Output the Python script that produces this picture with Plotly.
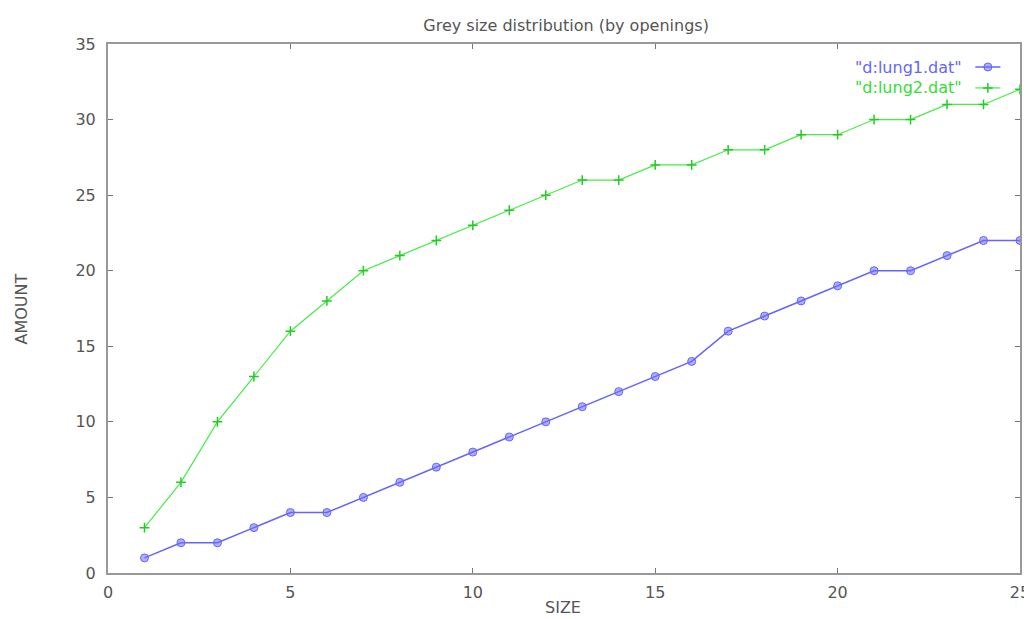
import plotly.graph_objects as go

size = list(range(1, 26))
lung1 = [1, 2, 2, 3, 4, 4, 5, 6, 7, 8, 9, 10, 11, 12, 13, 14, 16, 17, 18, 19, 20, 20, 21, 22, 22]
lung2 = [3, 6, 10, 13, 16, 18, 20, 21, 22, 23, 24, 25, 26, 26, 27, 27, 28, 28, 29, 29, 30, 30, 31, 31, 32]
names = ['"d:lung1.dat"', '"d:lung2.dat"']
x_ticks = [0, 5, 10, 15, 20, 25]
y_ticks = [0, 5, 10, 15, 20, 25, 30, 35]

blue = "#6464ff"
blue_m = "rgba(110,110,255,0.55)"
green = "#44ee44"
font = "DejaVu Sans, Liberation Sans, sans-serif"
grey = "#555555"
fs = 16

fig = go.Figure()
fig.add_trace(go.Scatter(x=size, y=lung1, mode="lines+markers", name=names[0],
                         line=dict(color=blue, width=1.5),
                         marker=dict(symbol="circle", size=8, color=blue_m,
                                     line=dict(color=blue, width=1)),
                         showlegend=False))
fig.add_trace(go.Scatter(x=size, y=lung2, mode="lines+markers", name=names[1],
                         line=dict(color=green, width=1.2),
                         marker=dict(symbol="cross-thin", size=7,
                                     line=dict(color="#22cc22", width=1.5)),
                         showlegend=False))

# gnuplot-style key: text on left, sample on right (drawn on an overlay axis)
key_y = [0.9565, 0.917]
key_x = [0.951, 0.9785]
fig.add_trace(go.Scatter(x=key_x, y=[key_y[0]] * 2, mode="lines", xaxis="x2", yaxis="y2",
                         line=dict(color=blue, width=1.5), showlegend=False, hoverinfo="skip"))
fig.add_trace(go.Scatter(x=[sum(key_x) / 2], y=[key_y[0]], mode="markers", xaxis="x2", yaxis="y2",
                         marker=dict(symbol="circle", size=8, color=blue_m, line=dict(color=blue, width=1)),
                         showlegend=False, hoverinfo="skip"))
fig.add_trace(go.Scatter(x=key_x, y=[key_y[1]] * 2, mode="lines", xaxis="x2", yaxis="y2",
                         line=dict(color=green, width=1.2), showlegend=False, hoverinfo="skip"))
fig.add_trace(go.Scatter(x=[sum(key_x) / 2], y=[key_y[1]], mode="markers", xaxis="x2", yaxis="y2",
                         marker=dict(symbol="cross-thin", size=7, line=dict(color="#22cc22", width=1.5)),
                         showlegend=False, hoverinfo="skip"))

for i, (nm, col) in enumerate(zip(names, [blue, "#33dd33"])):
    fig.add_annotation(x=0.9385, y=key_y[i], xref="paper", yref="paper", text=nm,
                       showarrow=False, xanchor="right", yanchor="middle",
                       font=dict(family=font, size=fs, color=col))

# axis titles
fig.add_annotation(x=-0.0943, y=0.5, xref="paper", yref="paper", text="AMOUNT", textangle=-90,
                   showarrow=False, xanchor="center", yanchor="middle",
                   font=dict(family=font, size=fs, color=grey))
fig.add_annotation(x=0.499, y=-0.0643, xref="paper", yref="paper", text="SIZE",
                   showarrow=False, xanchor="center", yanchor="middle",
                   font=dict(family=font, size=fs, color=grey))

axis_common = dict(showgrid=False, zeroline=False, showline=True, linecolor="#999999", linewidth=2,
                   mirror="allticks", ticks="inside", ticklen=5, tickcolor="#777777", tickwidth=1,
                   tickfont=dict(family=font, size=fs, color=grey), automargin=False)

fig.update_layout(
    width=1024, height=611,
    margin=dict(l=100, r=12, t=36, b=46),
    paper_bgcolor="white", plot_bgcolor="white",
    title=dict(text="Grey size distribution (by openings)", x=0.545, xanchor="center",
               y=0.972, yanchor="middle", font=dict(family=font, size=fs, color=grey)),
    xaxis=dict(range=[0, 25], tickvals=x_ticks, ticklabelstandoff=4, **axis_common),
    yaxis=dict(range=[0, 35], tickvals=y_ticks, ticklabelstandoff=7, **axis_common),
    xaxis2=dict(range=[0, 1], overlaying="x", visible=False, fixedrange=True),
    yaxis2=dict(range=[0, 1], overlaying="y", visible=False, fixedrange=True),
)

fig.write_html("out.html")
